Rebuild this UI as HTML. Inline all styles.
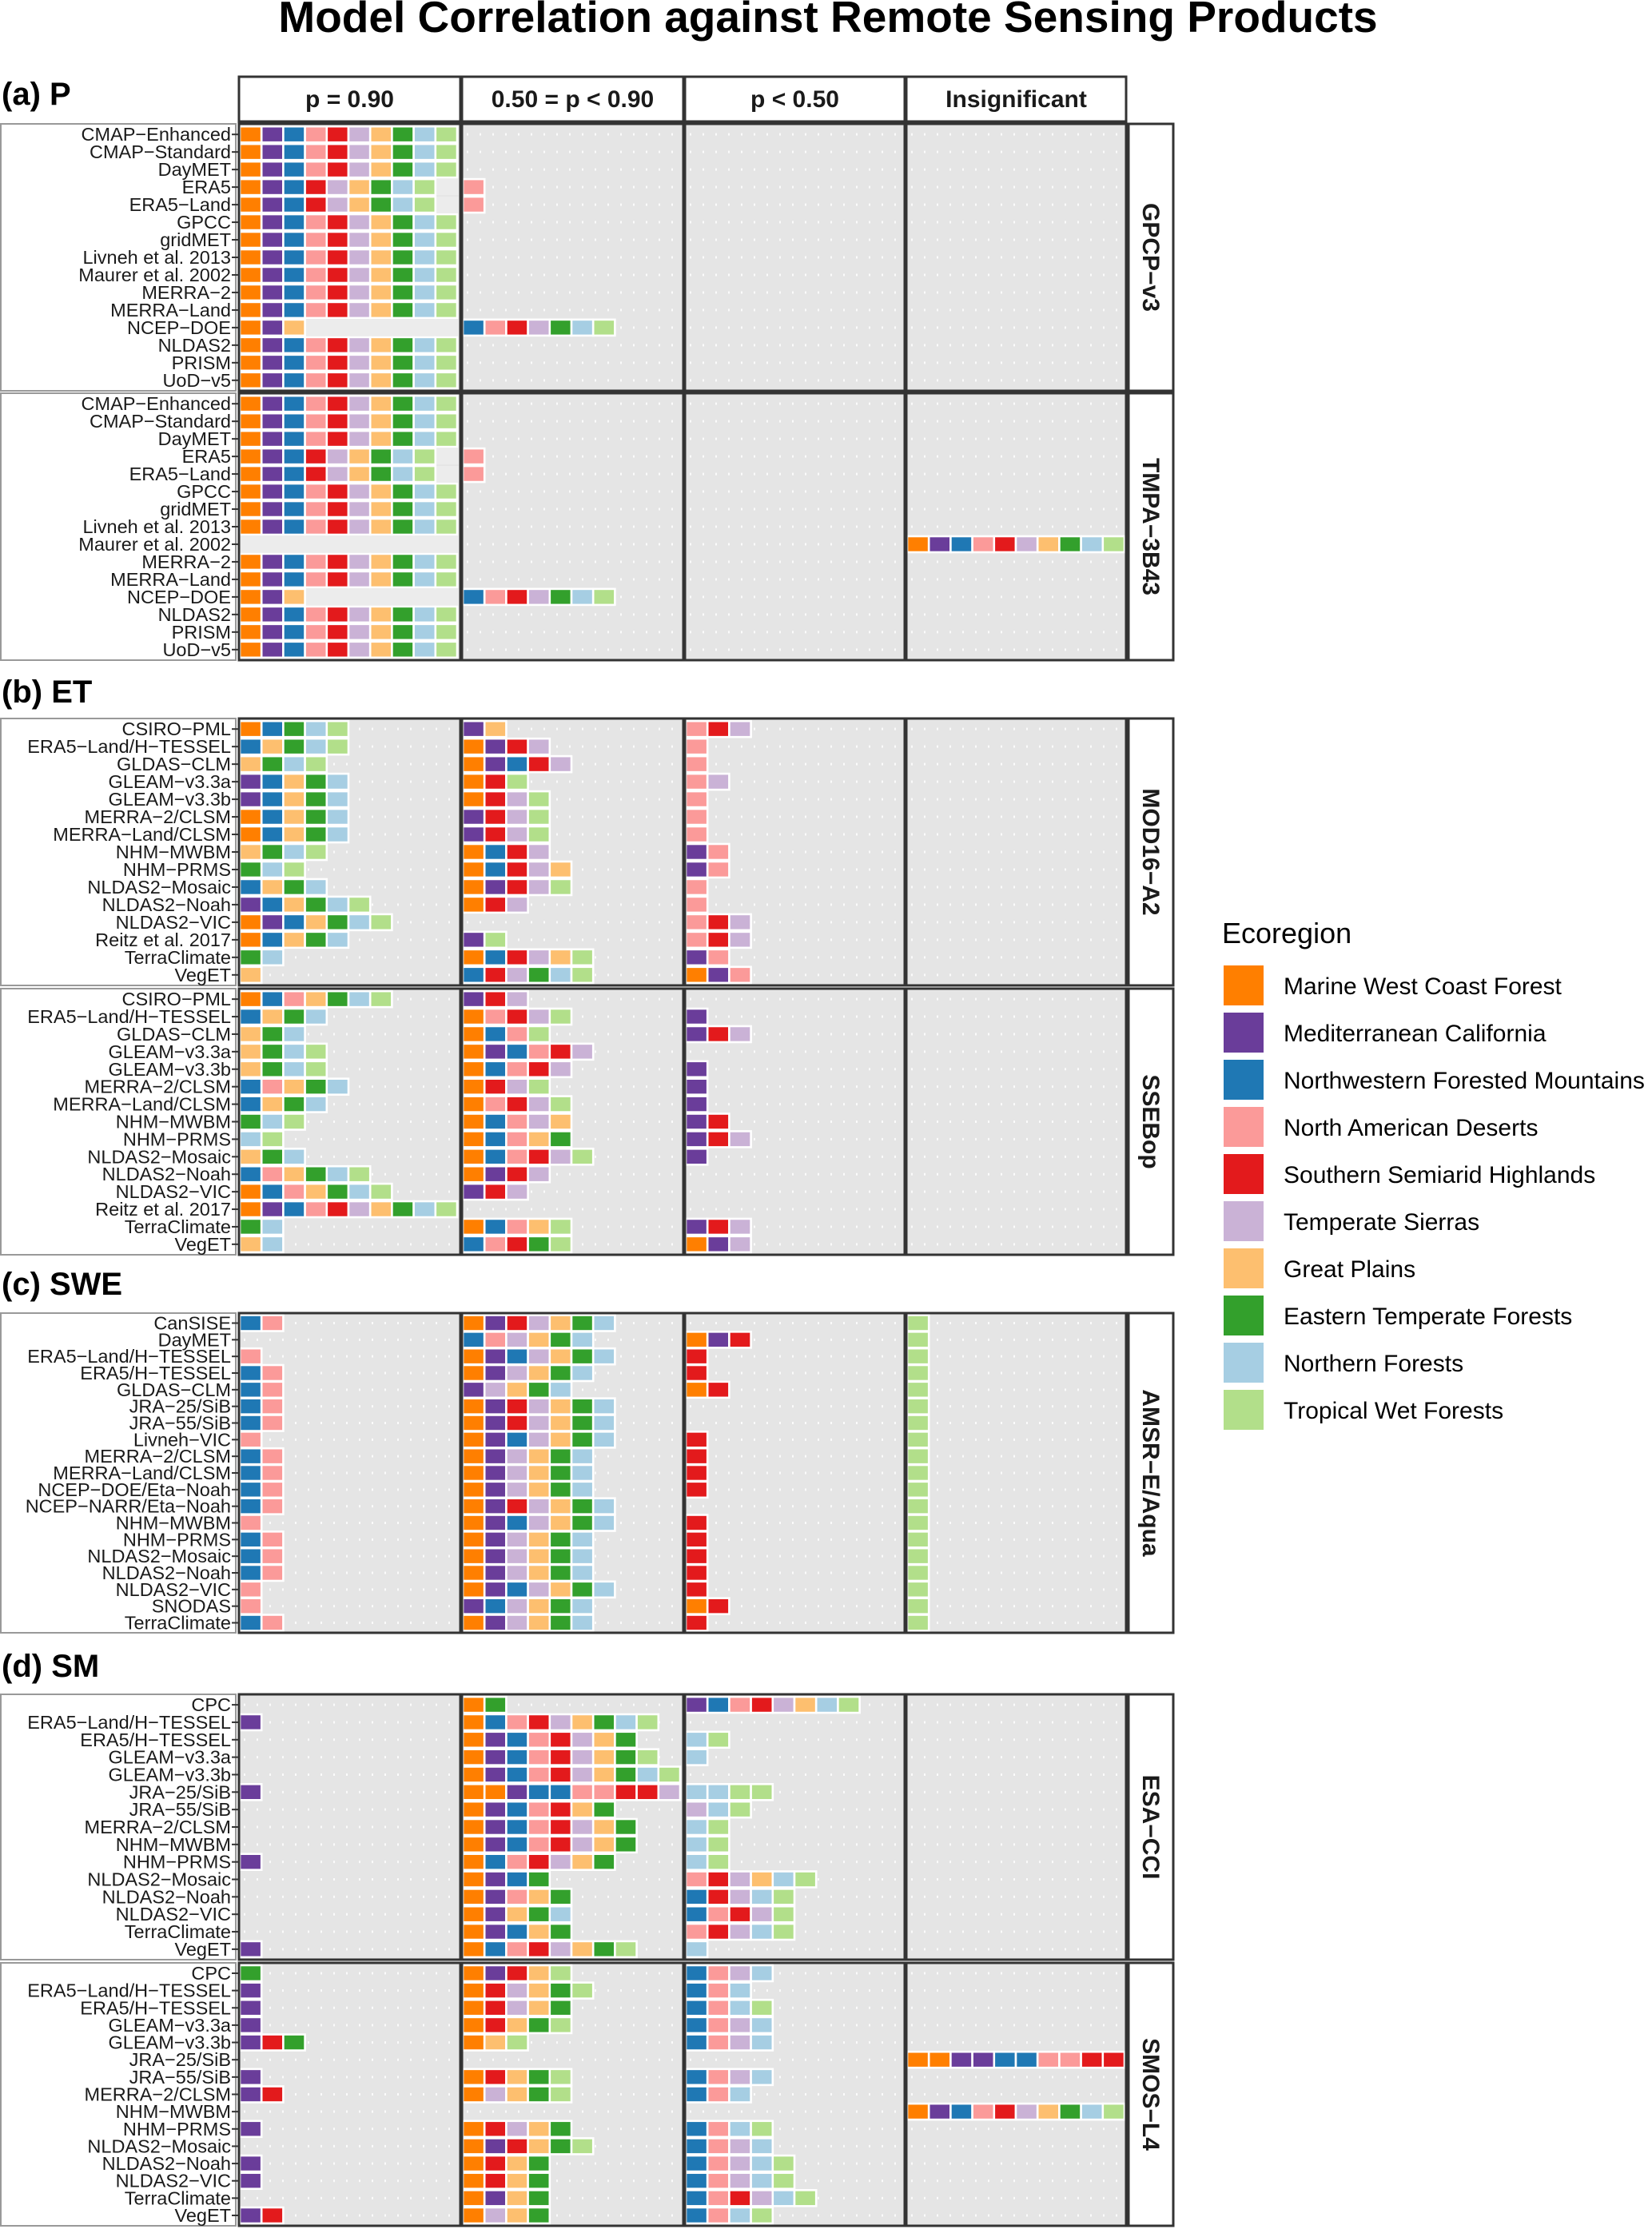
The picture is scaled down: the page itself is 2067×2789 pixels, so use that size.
<!DOCTYPE html>
<html><head><meta charset="utf-8">
<style>
html,body{margin:0;padding:0;background:#fff;}
svg{display:block;font-family:"Liberation Sans",Arial,sans-serif;}
</style></head>
<body>
<svg id="chart" width="2067" height="2789" viewBox="0 0 2067 2789" xmlns="http://www.w3.org/2000/svg">
<text x="1036" y="40" font-size="55" font-weight="bold" text-anchor="middle">Model Correlation against Remote Sensing Products</text>
<g id="plot"></g>
<g id="legend"></g>
</svg>
<script>
// ecoregion codes
const ecoCodes = ['O','P','B','K','R','L','G','E','N','T'];
const ecoNames = ['Marine West Coast Forest','Mediterranean California','Northwestern Forested Mountains','North American Deserts','Southern Semiarid Highlands','Temperate Sierras','Great Plains','Eastern Temperate Forests','Northern Forests','Tropical Wet Forests'];
const ecoColors = ['#ff7f00','#6a3d9a','#1f78b4','#fb9a99','#e31a1c','#cab2d6','#fdbf6f','#33a02c','#a6cee3','#b2df8a'];
const colHeaders = ['p = 0.90','0.50 = p < 0.90','p < 0.50','Insignificant'];

const modelsP = ['CMAP−Enhanced','CMAP−Standard','DayMET','ERA5','ERA5−Land','GPCC','gridMET','Livneh et al. 2013','Maurer et al. 2002','MERRA−2','MERRA−Land','NCEP−DOE','NLDAS2','PRISM','UoD−v5'];
const valuesGPCP = [
 ['OPBKRLGENT','','',''],['OPBKRLGENT','','',''],['OPBKRLGENT','','',''],
 ['OPBRLGENT','K','',''],['OPBRLGENT','K','',''],
 ['OPBKRLGENT','','',''],['OPBKRLGENT','','',''],['OPBKRLGENT','','',''],['OPBKRLGENT','','',''],
 ['OPBKRLGENT','','',''],['OPBKRLGENT','','',''],
 ['OPG','BKRLENT','',''],
 ['OPBKRLGENT','','',''],['OPBKRLGENT','','',''],['OPBKRLGENT','','','']];
const valuesTMPA = [
 ['OPBKRLGENT','','',''],['OPBKRLGENT','','',''],['OPBKRLGENT','','',''],
 ['OPBRLGENT','K','',''],['OPBRLGENT','K','',''],
 ['OPBKRLGENT','','',''],['OPBKRLGENT','','',''],['OPBKRLGENT','','',''],
 ['','','','OPBKRLGENT'],
 ['OPBKRLGENT','','',''],['OPBKRLGENT','','',''],
 ['OPG','BKRLENT','',''],
 ['OPBKRLGENT','','',''],['OPBKRLGENT','','',''],['OPBKRLGENT','','','']];

const modelsET = ['CSIRO−PML','ERA5−Land/H−TESSEL','GLDAS−CLM','GLEAM−v3.3a','GLEAM−v3.3b','MERRA−2/CLSM','MERRA−Land/CLSM','NHM−MWBM','NHM−PRMS','NLDAS2−Mosaic','NLDAS2−Noah','NLDAS2−VIC','Reitz et al. 2017','TerraClimate','VegET'];
const valuesMOD16 = [
 ['OBENT','PG','KRL',''],['BGENT','OPRL','K',''],['GENT','OPBRL','K',''],
 ['PBGEN','ORT','KL',''],['PBGEN','ORLT','K',''],['OBGEN','PRLT','K',''],
 ['OBGEN','PRLT','K',''],['GENT','OBRL','PK',''],['ENT','OBRLG','PK',''],
 ['BGEN','OPRLT','K',''],['PBGENT','ORL','K',''],['OPBGENT','','KRL',''],
 ['OBGEN','PT','KRL',''],['EN','OBRLGT','PK',''],['G','BRLENT','OPK','']];
const valuesSSEB = [
 ['OBKGENT','PRL','',''],['BGEN','OKRLT','P',''],['GEN','OBKT','PRL',''],
 ['GENT','OPBKRL','',''],['GENT','OBKRL','P',''],['BKGEN','ORLT','P',''],
 ['BGEN','OKRLT','P',''],['ENT','OBKLG','PR',''],['NT','OBKGE','PRL',''],
 ['GEN','OBKRLT','P',''],['BKGENT','OPRL','',''],['OBKGENT','PRL','',''],
 ['OPBKRLGENT','','',''],['EN','OBKGT','PRL',''],['GN','BKRET','OPL','']];

const modelsSWE = ['CanSISE','DayMET','ERA5−Land/H−TESSEL','ERA5/H−TESSEL','GLDAS−CLM','JRA−25/SiB','JRA−55/SiB','Livneh−VIC','MERRA−2/CLSM','MERRA−Land/CLSM','NCEP−DOE/Eta−Noah','NCEP−NARR/Eta−Noah','NHM−MWBM','NHM−PRMS','NLDAS2−Mosaic','NLDAS2−Noah','NLDAS2−VIC','SNODAS','TerraClimate'];
const valuesAMSR = [
 ['BK','OPRLGEN','','T'],['','BKLGEN','OPR','T'],['K','OPBLGEN','R','T'],
 ['BK','OPLGEN','R','T'],['BK','PLGEN','OR','T'],['BK','OPRLGEN','','T'],
 ['BK','OPRLGEN','','T'],['K','OPBLGEN','R','T'],['BK','OPLGEN','R','T'],
 ['BK','OPLGEN','R','T'],['BK','OPLGEN','R','T'],['BK','OPRLGEN','','T'],
 ['K','OPBLGEN','R','T'],['BK','OPLGEN','R','T'],['BK','OPLGEN','R','T'],
 ['BK','OPLGEN','R','T'],['K','OPBLGEN','R','T'],['K','PBLGEN','OR','T'],
 ['BK','OPLGEN','R','T']];

const modelsSM = ['CPC','ERA5−Land/H−TESSEL','ERA5/H−TESSEL','GLEAM−v3.3a','GLEAM−v3.3b','JRA−25/SiB','JRA−55/SiB','MERRA−2/CLSM','NHM−MWBM','NHM−PRMS','NLDAS2−Mosaic','NLDAS2−Noah','NLDAS2−VIC','TerraClimate','VegET'];
const valuesESA = [
 ['','OE','PBKRLGNT',''],['P','OBKRLGENT','',''],['','OPBKRLGE','NT',''],
 ['','OPBKRLGET','N',''],['','OPBKRLGENT','',''],['P','OOPBBKKRRL','NNTT',''],
 ['','OPBKRGE','LNT',''],['','OPBKRLGE','NT',''],['','OPBKRLGE','NT',''],
 ['P','OBKRLGE','NT',''],['','OPBE','KRLGNT',''],['','OPKGE','BRLNT',''],
 ['','OPGEN','BKRLT',''],['','OPBGE','KRLNT',''],['P','OBKRLGET','N','']];
const valuesSMOS = [
 ['E','OPRGT','BKLN',''],['P','ORLGET','BKN',''],['P','ORLGE','BKNT',''],
 ['P','ORGET','BKLN',''],['PRE','OGT','BKLN',''],['','','','OOPPBBKKRR'],
 ['P','ORGET','BKLN',''],['PR','OLGET','BKN',''],['','','','OPBKRLGENT'],
 ['P','ORLGE','BKNT',''],['','OPRGET','BKLN',''],['P','ORGE','BKLNT',''],
 ['P','ORGE','BKLNT',''],['','OPGE','BKRLNT',''],['PR','OLGE','BKNT','']];

const NS='http://www.w3.org/2000/svg';
const plot=document.getElementById('plot');
function mk(tag,attrs,parent){const e=document.createElementNS(NS,tag);for(const k in attrs)e.setAttribute(k,attrs[k]);(parent||plot).appendChild(e);return e;}

const cols=[[299,576],[578,855],[857,1132],[1134,1409]];
const tileW=27.2, tileH=20;
function tileX(col,i){return cols[col][0]+1+i*tileW;}

const panels=[
 {label:'(a) P',ly:131,header:[96,152],facets:[{name:'GPCP−v3',top:155,bot:489,models:modelsP,vals:valuesGPCP},{name:'TMPA−3B43',top:492,bot:826,models:modelsP,vals:valuesTMPA}],band:true},
 {label:'(b) ET',ly:879,facets:[{name:'MOD16−A2',top:899,bot:1233,models:modelsET,vals:valuesMOD16},{name:'SSEBop',top:1237,bot:1570,models:modelsET,vals:valuesSSEB}]},
 {label:'(c) SWE',ly:1620,facets:[{name:'AMSR−E/Aqua',top:1643,bot:2043,models:modelsSWE,vals:valuesAMSR}]},
 {label:'(d) SM',ly:2098,facets:[{name:'ESA−CCI',top:2120,bot:2452,models:modelsSM,vals:valuesESA},{name:'SMOS−L4',top:2456,bot:2785,models:modelsSM,vals:valuesSMOS}]}
];

panels.forEach((p,pi)=>{
  const t=mk('text',{x:2,y:p.ly,'font-size':40,'font-weight':'bold'});t.textContent=p.label;
  
  
  if(p.header){
    cols.forEach((c,ci)=>{
      const r=mk('rect',{x:c[0],y:p.header[0],width:c[1]-c[0],height:p.header[1]-p.header[0],fill:'#fff',stroke:'#333','stroke-width':3});
      
      
      const ht=mk('text',{x:(c[0]+c[1])/2,y:(p.header[0]+p.header[1])/2+10,'font-size':30,'font-weight':'bold','text-anchor':'middle',fill:'#1a1a1a'});
      ht.textContent=colHeaders[ci];
      
      
    });
  }
  p.facets.forEach(f=>{
    const n=f.models.length, H=f.bot-f.top, pitch=H/(n-1+1.2);
    const yc=i=>f.top+(i+0.6)*pitch;
    const lb=mk('rect',{x:1,y:f.top,width:294,height:H,fill:'#fff',stroke:'#999','stroke-width':2});
    
    
    cols.forEach(c=>{
      const bg=mk('rect',{x:c[0],y:f.top,width:c[1]-c[0],height:H,fill:'#e5e5e5'});
      
      
    });
    f.models.forEach((m,ri)=>{
      const y=yc(ri);
      const tx=mk('text',{x:289,y:y+8,'font-size':23.5,'text-anchor':'end',fill:'#1a1a1a'});
      tx.textContent=m;
      
      
      const tk=mk('line',{x1:290,x2:299,y1:y,y2:y,stroke:'#333','stroke-width':2});
      
      
      cols.forEach((c,ci)=>{
        const dl=mk('line',{x1:c[0]+6,x2:c[1],y1:y,y2:y,stroke:'#fff','stroke-width':3,'stroke-dasharray':'2 14','stroke-opacity':0.85});
        
        
        const s=f.vals[ri][ci];
        if(p.band && ci===0 && s.length<10){
          const bd=mk('rect',{x:tileX(0,s.length),y:y-tileH/2,width:c[1]-tileX(0,s.length)-2,height:tileH,fill:'#ececec'});
          
          
        }
        for(let k=0;k<s.length;k++){
          const ei=ecoCodes.indexOf(s[k]);
          const r=mk('rect',{x:tileX(ci,k),y:y-tileH/2,width:tileW,height:tileH,fill:ecoColors[ei],stroke:'#fff','stroke-width':2.6});
          
          
        }
      });
    });
    cols.forEach(c=>{
      const br=mk('rect',{x:c[0],y:f.top,width:c[1]-c[0],height:H,fill:'none',stroke:'#333','stroke-width':3});
      
      
    });
    const st=mk('rect',{x:1412,y:f.top,width:56,height:H,fill:'#fff',stroke:'#333','stroke-width':3});
    
    
    const cy=(f.top+f.bot)/2;
    const sl=mk('text',{x:1430,y:cy,'font-size':30,'font-weight':'bold','text-anchor':'middle',transform:`rotate(90 1430 ${cy})`,fill:'#1a1a1a'});
    sl.textContent=f.name;
    
    
  });
});

const lg=document.getElementById('legend');
const lt=mk('text',{x:1529,y:1180,'font-size':36},lg);lt.textContent='Ecoregion';


ecoNames.forEach((nm,i)=>{
  const y=1208+i*59;
  const r=mk('rect',{x:1531,y:y,width:50,height:50,fill:ecoColors[i]},lg);
  
  
  const t=mk('text',{x:1606,y:y+36,'font-size':30},lg);t.textContent=nm;
  
  
});
</script>
</body></html>
